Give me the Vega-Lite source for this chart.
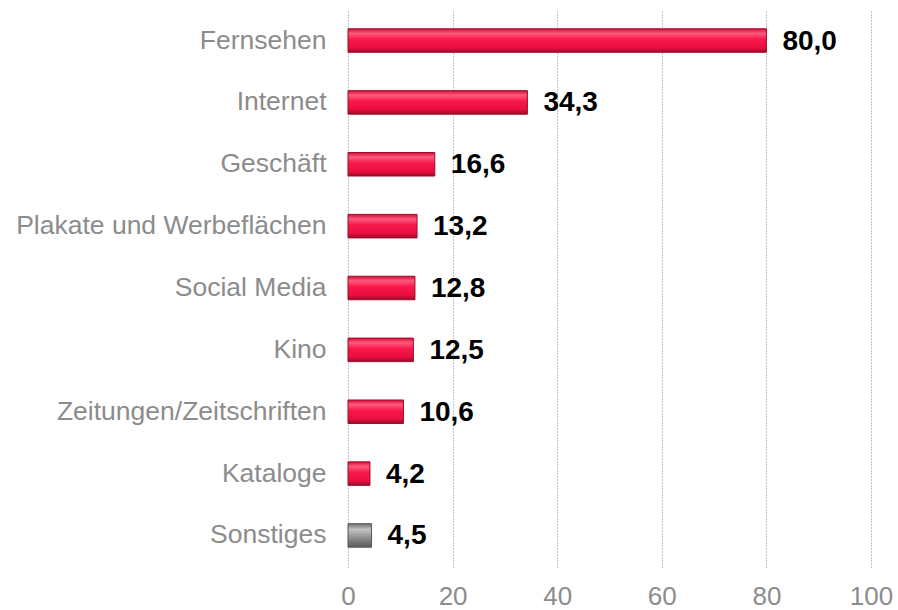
{
  "$schema": "https://vega.github.io/schema/vega-lite/v6.json",
  "width": 523,
  "height": 558,
  "autosize": "none",
  "padding": {"left": 348, "top": 9, "right": 27, "bottom": 43},
  "background": "white",
  "config": {"view": {"stroke": null}, "font": "Liberation Sans"},
  "data": {"values": [
    {"medium": "Fernsehen", "wert": 80.0, "label": "80,0", "grp": "a"},
    {"medium": "Internet", "wert": 34.3, "label": "34,3", "grp": "a"},
    {"medium": "Geschäft", "wert": 16.6, "label": "16,6", "grp": "a"},
    {"medium": "Plakate und Werbeflächen", "wert": 13.2, "label": "13,2", "grp": "a"},
    {"medium": "Social Media", "wert": 12.8, "label": "12,8", "grp": "a"},
    {"medium": "Kino", "wert": 12.5, "label": "12,5", "grp": "a"},
    {"medium": "Zeitungen/Zeitschriften", "wert": 10.6, "label": "10,6", "grp": "a"},
    {"medium": "Kataloge", "wert": 4.2, "label": "4,2", "grp": "a"},
    {"medium": "Sonstiges", "wert": 4.5, "label": "4,5", "grp": "b"}
  ]},
  "encoding": {
    "y": {"field": "medium", "type": "nominal", "sort": null,
      "scale": {"paddingInner": 0.62, "paddingOuter": 0.32},
      "axis": {"title": null, "domain": false, "ticks": false, "labelPadding": 22,
        "labelFontSize": 26.5, "labelColor": "#8c8c8c", "labelFont": "Liberation Sans", "labelLimit": 400}},
    "x": {"field": "wert", "type": "quantitative",
      "scale": {"domain": [0, 100], "nice": false},
      "axis": {"title": null, "values": [0, 20, 40, 60, 80, 100], "domain": false, "ticks": false,
        "labelPadding": 16, "labelFontSize": 26, "labelColor": "#8c8c8c", "labelFont": "Liberation Sans",
        "grid": true, "gridColor": "#888888", "gridDash": [1, 2], "gridWidth": 1,
        "labelOverlap": false, "labelFlush": false}}
  },
  "layer": [
    {
      "mark": {"type": "bar", "color": "#000000", "opacity": 0.07, "yOffset": -3, "height": {"band": 0.55}, "x2Offset": 4},
      "encoding": {"x2": {"datum": 0}}
    },
    {
      "transform": [{"filter": "datum.grp == 'a'"}],
      "mark": {"type": "bar", "stroke": "#a00a2a", "strokeWidth": 1,
        "color": {"gradient": "linear", "x1": 0, "y1": 0, "x2": 0, "y2": 1,
          "stops": [
            {"offset": 0, "color": "#d40f3a"},
            {"offset": 0.2, "color": "#ff5a7e"},
            {"offset": 0.45, "color": "#f8184a"},
            {"offset": 0.8, "color": "#ea0e40"},
            {"offset": 1, "color": "#9a0c2a"}
          ]}}
    },
    {
      "transform": [{"filter": "datum.grp == 'b'"}],
      "mark": {"type": "bar", "stroke": "#555555", "strokeWidth": 1,
        "color": {"gradient": "linear", "x1": 0, "y1": 0, "x2": 0, "y2": 1,
          "stops": [
            {"offset": 0, "color": "#6e6e6e"},
            {"offset": 0.25, "color": "#c4c4c4"},
            {"offset": 0.6, "color": "#8f8f8f"},
            {"offset": 1, "color": "#5a5a5a"}
          ]}}
    },
    {
      "mark": {"type": "text", "align": "left", "dx": 16, "dy": 1, "fontSize": 28, "fontWeight": "bold",
        "color": "#000000", "font": "Liberation Sans"},
      "encoding": {"text": {"field": "label"}}
    }
  ]
}
